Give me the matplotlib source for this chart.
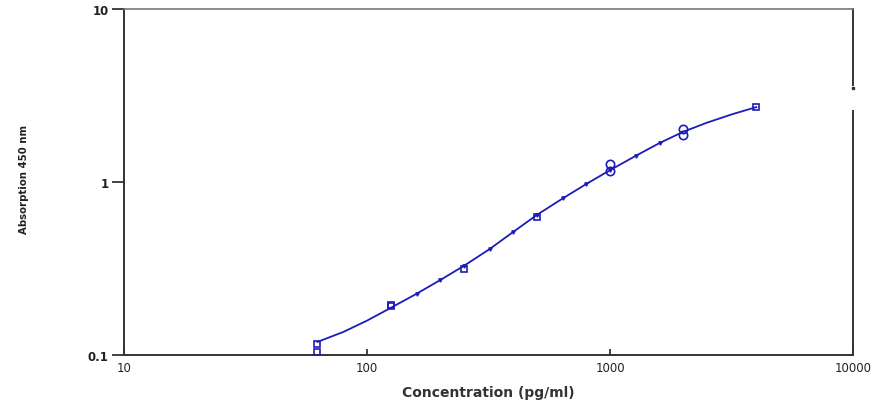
import matplotlib
matplotlib.use("Agg")
import matplotlib.pyplot as plt
from matplotlib.lines import Line2D

# Standards (pg/ml) and measured absorbance
std_conc_sq = [62.5, 62.5, 125, 125, 250, 500, 4000]
std_abs_sq = [0.116, 0.104, 0.192, 0.195, 0.314, 0.628, 2.71]
std_conc_ci = [1000, 1000, 2000, 2000]
std_abs_ci = [1.27, 1.16, 2.02, 1.88]

# Fitted curve
curve_conc = [62.5, 80, 100, 125, 160, 200, 250, 320, 400, 500, 640, 800,
              1000, 1280, 1600, 2000, 2500, 3200, 4000]
curve_abs = [0.119, 0.136, 0.158, 0.187, 0.226, 0.271, 0.327, 0.410, 0.515,
             0.645, 0.805, 0.975, 1.17, 1.42, 1.68, 1.95, 2.20, 2.47, 2.71]

x_ticks = [10, 100, 1000, 10000]
x_tick_labels = ["10", "100", "1000", "10000"]
y_ticks = [0.1, 1, 10]
y_tick_labels = ["0.1", "1", "10"]

blue = "#1c1cb8"

fig = plt.figure(figsize=(8.88, 4.02), dpi=100)
ax = fig.add_axes([124/888, 1-356/402, (853-124)/888, (356-10)/402])
ax.set_xscale("log")
ax.set_yscale("log")
ax.set_xlim(10, 10000)
ax.set_ylim(0.1, 10)

ax.plot(curve_conc, curve_abs, color=blue, lw=1.3, marker="v", ms=2.4,
        markevery=list(range(4, 15)), zorder=3)
ax.plot(std_conc_sq, std_abs_sq, linestyle="none", marker="s", ms=5,
        mfc="none", mec=blue, mew=1.2, zorder=4)
ax.plot(std_conc_ci, std_abs_ci, linestyle="none", marker="o", ms=6,
        mfc="none", mec=blue, mew=1.2, zorder=4)

ax.set_xticks(x_ticks)
ax.set_xticklabels(x_tick_labels)
ax.set_yticks(y_ticks)
ax.set_yticklabels(y_tick_labels)
ax.minorticks_off()
ax.tick_params(axis="x", direction="in", length=4, width=1.2, labelsize=8.5,
               pad=4, colors="#222222")
ax.tick_params(axis="y", direction="out", length=9, width=1.2, labelsize=8.5,
               pad=2, colors="#222222")
for lab in ax.get_yticklabels():
    lab.set_fontweight("bold")

for s in ["left", "bottom"]:
    ax.spines[s].set_color("#333333")
    ax.spines[s].set_linewidth(1.4)
ax.spines["top"].set_color("#777777")
ax.spines["top"].set_linewidth(1.2)
ax.spines["right"].set_visible(False)
# right spine with gap
ax.add_line(Line2D([1, 1], [0, 1 - (112-10)/346], transform=ax.transAxes,
                   color="#333333", lw=1.4, clip_on=False))
ax.add_line(Line2D([1, 1], [1 - (86-10)/346, 1], transform=ax.transAxes,
                   color="#333333", lw=1.4, clip_on=False))
ax.plot([1.0], [1 - (89-10)/346], transform=ax.transAxes, marker="s", ms=1.5,
        color="#333333", clip_on=False)

ax.set_xlabel("Concentration (pg/ml)", fontsize=10, fontweight="bold",
              color="#333333", labelpad=8)
fig.text(24/888, 1-179/402, "Absorption 450 nm", rotation=90, ha="center",
         va="center", fontsize=8.1, fontweight="bold", color="#222222",
         family="DejaVu Sans", fontstretch="condensed")

fig.savefig("out.png", dpi=100, facecolor="white")
